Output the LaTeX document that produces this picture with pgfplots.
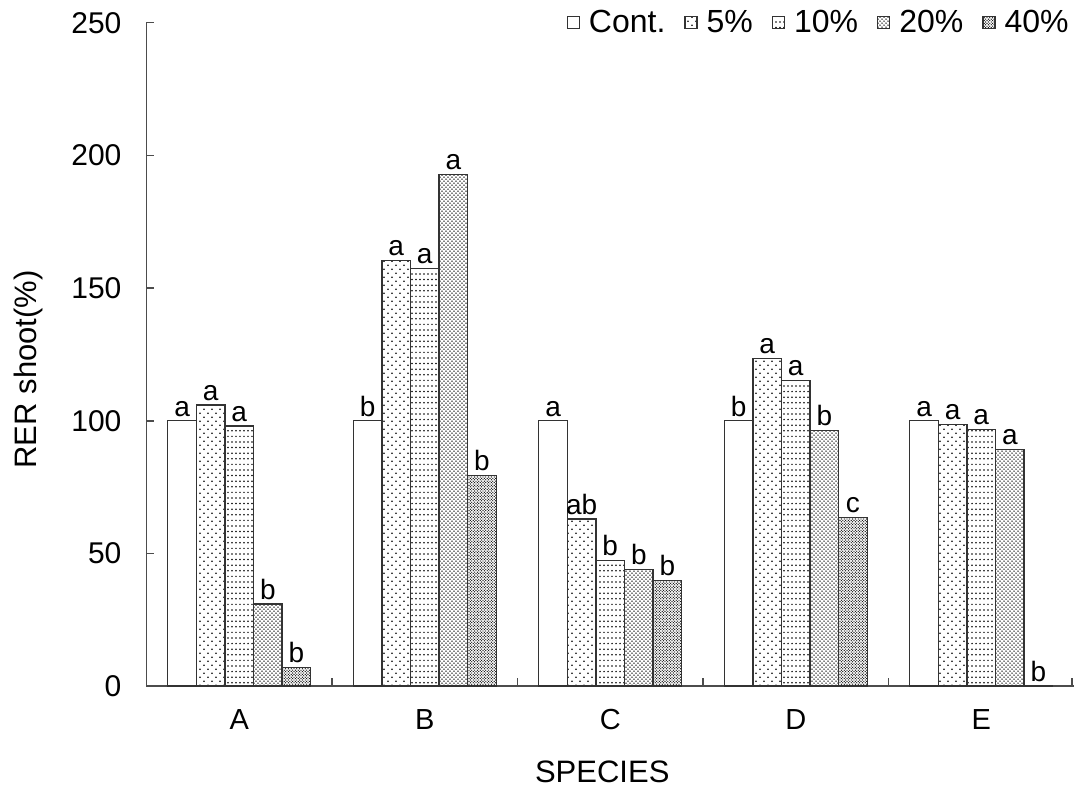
\documentclass[border=0pt]{standalone}
\usepackage{fontspec}
\setmainfont{Liberation Sans}
\usepackage{pgfplots}
\pgfplotsset{compat=1.18}
\usetikzlibrary{patterns}

% dot patterns, sparse to dense
\pgfdeclarepatternformonly{dotsA}{\pgfqpoint{-1pt}{-1pt}}{\pgfqpoint{4pt}{4pt}}{\pgfqpoint{4pt}{4pt}}{%
  \pgfpathcircle{\pgfqpoint{0pt}{0pt}}{0.45pt}\pgfusepath{fill}%
  \pgfpathcircle{\pgfqpoint{2pt}{2pt}}{0.45pt}\pgfusepath{fill}}
\pgfdeclarepatternformonly{dotsB}{\pgfqpoint{-1pt}{-1pt}}{\pgfqpoint{1pt}{1pt}}{\pgfqpoint{2pt}{2.8pt}}{%
  \pgfpathcircle{\pgfqpoint{0pt}{0pt}}{0.42pt}\pgfusepath{fill}}
\pgfdeclarepatternformonly{dotsC}{\pgfqpoint{-0.5pt}{-0.5pt}}{\pgfqpoint{2pt}{2pt}}{\pgfqpoint{2pt}{2pt}}{%
  \pgfpathcircle{\pgfqpoint{0pt}{0pt}}{0.38pt}\pgfusepath{fill}%
  \pgfpathcircle{\pgfqpoint{1pt}{1pt}}{0.38pt}\pgfusepath{fill}}
\pgfdeclarepatternformonly{dotsD}{\pgfqpoint{-0.5pt}{-0.5pt}}{\pgfqpoint{1.4pt}{1.4pt}}{\pgfqpoint{1.4pt}{1.4pt}}{%
  \pgfpathcircle{\pgfqpoint{0pt}{0pt}}{0.33pt}\pgfusepath{fill}%
  \pgfpathcircle{\pgfqpoint{0.7pt}{0.7pt}}{0.33pt}\pgfusepath{fill}}

\begin{document}
\begin{tikzpicture}
\begin{axis}[
  scale only axis,
  width=463.75pt, height=331.75pt,
  ybar=0pt, bar width=14.3pt,
  xmin=-0.5, xmax=4.5,
  ymin=0, ymax=250,
  ytick={0,50,...,250},
  xtick={0,1,2,3,4},
  xticklabels={A,B,C,D,E},
  xtick style={draw=none},
  tick align=inside,
  major tick length=4pt,
  axis x line*=bottom, axis y line*=left,
  axis line style={black!70, line width=0.75pt},
  ytick style={black!70, line width=0.75pt},
  /pgf/number format/assume math mode=true,
  yticklabel style={font=\fontsize{15}{17}\selectfont, xshift=-9pt},
  xticklabel style={font=\fontsize{14.5}{16}\selectfont, yshift=-8pt},
  xlabel={SPECIES}, ylabel={RER shoot(\%)},
  every axis x label/.style={at={(rel axis cs:0.5,0)}, xshift=-4pt, yshift=-37pt,
    anchor=north, inner sep=0pt, font=\fontsize{15.5}{17}\selectfont},
  every axis y label/.style={at={(rel axis cs:0,0.5)}, xshift=-54.75pt, yshift=-7.5pt,
    rotate=90, anchor=base, inner sep=0pt, font=\fontsize{15.5}{17}\selectfont},
  nodes near coords,
  point meta=explicit symbolic,
  every node near coord/.append style={font=\fontsize{14}{16}\selectfont, yshift=-1.5pt, black},
  every axis plot/.append style={draw=black!80, line width=0.7pt},
  legend style={at={(rel axis cs:1,1)}, anchor=east, xshift=-1pt, draw=none, fill=none,
    inner sep=0pt, legend columns=-1, font=\fontsize{16}{18}\selectfont,
    nodes={inner sep=1.5pt},
    /tikz/every odd column/.append style={column sep=3pt},
    /tikz/every even column/.append style={column sep=8pt}},
  legend image code/.code={\draw[#1, line width=0.6pt] (0pt,-3pt) rectangle (6pt,3pt);},
  legend cell align=left,
]
\addplot[fill=white] coordinates {(0,100)[a] (1,100)[b] (2,100)[a] (3,100)[b] (4,100)[a]};
\addplot[pattern=dotsA] coordinates {(0,106)[a] (1,160.5)[a] (2,63)[ab] (3,123.5)[a] (4,98.6)[a]};
\addplot[pattern=dotsB] coordinates {(0,98)[a] (1,157.4)[a] (2,47.4)[b] (3,115.2)[a] (4,96.8)[a]};
\addplot[pattern=dotsC] coordinates {(0,31)[b] (1,192.8)[a] (2,44)[b] (3,96.4)[b] (4,89.2)[a]};
\addplot[pattern=dotsD] coordinates {(0,7)[b] (1,79.4)[b] (2,39.9)[b] (3,63.6)[c] (4,0)[b]};
\legend{Cont.,5\%,10\%,20\%,40\%}
\pgfplotsinvokeforeach{0.5,1.5,2.5,3.5,4.49}{
  \draw[black!70, line width=0.75pt] (axis cs:#1,0) -- ([yshift=4pt]axis cs:#1,0);
}
\coordinate (bl) at (rel axis cs:0,0);
\coordinate (tr) at (rel axis cs:1,1);
\end{axis}
\pgfresetboundingbox
\path ([shift={(-73.25pt,-51.5pt)}]bl) rectangle ([shift={(3.5pt,11.35pt)}]tr);
\end{tikzpicture}
\end{document}
